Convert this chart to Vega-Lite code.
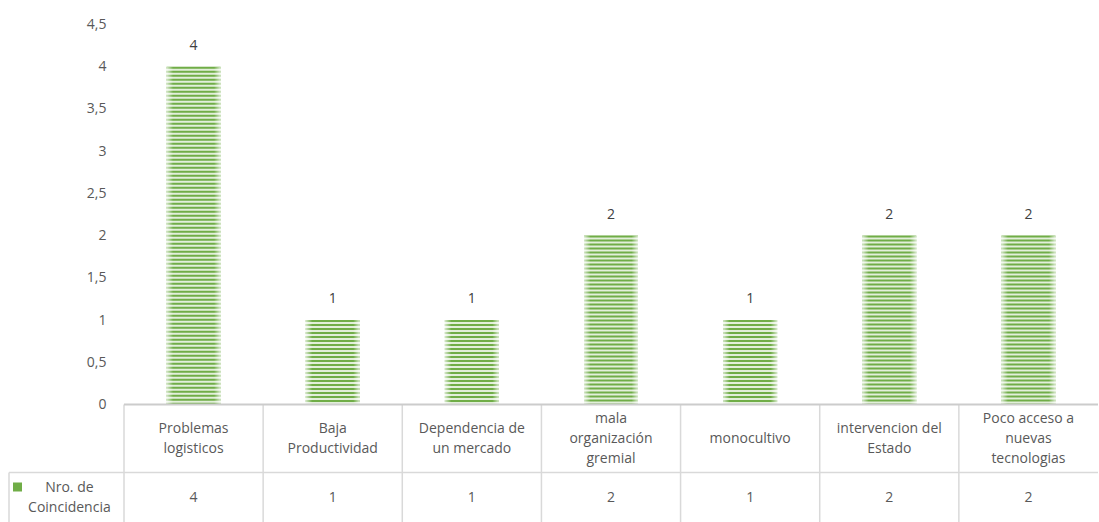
{
  "$schema": "https://vega.github.io/schema/vega-lite/v6.json",
  "padding": {"left": 8, "top": 17.5, "right": 2, "bottom": 0},
  "config": {"view": {"stroke": null}, "font": "Open Sans"},
  "datasets": {
    "tabla": [
      {"factor": "Problemas logisticos", "etiqueta": "Problemas\nlogisticos", "n": 4},
      {"factor": "Baja Productividad", "etiqueta": "Baja\nProductividad", "n": 1},
      {"factor": "Dependencia de un mercado", "etiqueta": "Dependencia de\nun mercado", "n": 1},
      {"factor": "mala organización gremial", "etiqueta": "mala\norganización\ngremial", "n": 2},
      {"factor": "monocultivo", "etiqueta": "monocultivo", "n": 1},
      {"factor": "intervencion del Estado", "etiqueta": "intervencion del\nEstado", "n": 2},
      {"factor": "Poco acceso a nuevas tecnologias", "etiqueta": "Poco acceso a\nnuevas\ntecnologias", "n": 2}
    ],
    "serie": [{"serie": "Nro. de\nCoincidencia"}]
  },
  "columns": 2,
  "align": "each",
  "bounds": "flush",
  "spacing": 0,
  "resolve": {"scale": {"x": "independent", "y": "independent"}},
  "concat": [
    {
      "width": 115,
      "height": 380,
      "data": {"values": []},
      "mark": "text",
      "encoding": {}
    },
    {
      "width": 974,
      "height": 380,
      "data": {"name": "tabla"},
      "encoding": {
        "x": {"field": "factor", "type": "nominal", "sort": null, "axis": null,
              "scale": {"paddingInner": 0.612, "paddingOuter": 0.306}},
        "y": {"field": "n", "type": "quantitative",
              "scale": {"domain": [0, 4.5], "nice": false},
              "axis": {"values": [0, 0.5, 1, 1.5, 2, 2.5, 3, 3.5, 4, 4.5],
                       "labelExpr": "replace(format(datum.value, '~g'), '.', ',')",
                       "domain": false, "ticks": false, "grid": false,
                       "labelPadding": 18, "labelColor": "#595959",
                       "labelFontSize": 14, "labelFont": "Open Sans", "title": null}}
      },
      "layer": [
        {"mark": {"type": "bar", "fill": "#E2EFDA"}},
        {"mark": {"type": "rule", "stroke": "#70AD47", "strokeWidth": 54, "strokeDash": [2, 2]},
         "encoding": {"y2": {"datum": 0}}},
        {"mark": {"type": "bar",
                  "fill": {"gradient": "linear", "x1": 0, "y1": 0, "x2": 1, "y2": 0,
                           "stops": [
                             {"offset": 0, "color": "rgba(255,255,255,0.7)"},
                             {"offset": 0.12, "color": "rgba(255,255,255,0)"},
                             {"offset": 0.88, "color": "rgba(255,255,255,0)"},
                             {"offset": 1, "color": "rgba(255,255,255,0.7)"}
                           ]}}},
        {"mark": {"type": "text", "dy": -21, "fontSize": 14, "color": "#404040"},
         "encoding": {"text": {"field": "n"}}}
      ]
    },
    {
      "width": 115,
      "height": 118,
      "data": {"name": "serie"},
      "layer": [
        {"mark": {"type": "rule", "stroke": "#D9D9D9", "strokeWidth": 1.5},
         "encoding": {"y": {"datum": 1, "type": "quantitative",
                            "scale": {"domain": [0, 1.735], "reverse": true, "nice": false, "zero": false},
                            "axis": null}}},
        {"mark": {"type": "rule", "stroke": "#D9D9D9", "strokeWidth": 1.5},
         "encoding": {"x": {"datum": 0, "type": "quantitative",
                            "scale": {"domain": [0, 1], "nice": false, "zero": false}, "axis": null},
                      "y": {"datum": 1, "type": "quantitative", "axis": null},
                      "y2": {"datum": 1.735}}},
        {"mark": {"type": "point", "shape": "square", "filled": true, "size": 81, "color": "#70AD47", "opacity": 1},
         "encoding": {"x": {"datum": 0.074, "type": "quantitative", "axis": null},
                      "y": {"datum": 1.213, "type": "quantitative", "axis": null}}},
        {"mark": {"type": "text", "fontSize": 14, "color": "#595959", "lineBreak": "\n", "lineHeight": 20, "align": "center", "baseline": "middle", "dy": -10},
         "encoding": {"x": {"datum": 0.525, "type": "quantitative", "axis": null},
                      "y": {"datum": 1.38, "type": "quantitative", "axis": null},
                      "text": {"field": "serie"}}}
      ]
    },
    {
      "width": 974,
      "height": 118,
      "layer": [
        {"data": {"name": "tabla"},
         "mark": {"type": "rule", "stroke": "#D9D9D9", "strokeWidth": 1.5},
         "encoding": {"x": {"field": "factor", "type": "nominal", "sort": null, "bandPosition": 0, "axis": null,
                            "scale": {"paddingInner": 0, "paddingOuter": 0}},
                      "y": {"datum": 0, "type": "quantitative",
                            "scale": {"domain": [0, 1.735], "reverse": true, "nice": false, "zero": false},
                            "axis": null},
                      "y2": {"datum": 1.735}}},
        {"data": {"name": "serie"},
         "mark": {"type": "rule", "stroke": "#D9D9D9", "strokeWidth": 1.5},
         "encoding": {"y": {"datum": 1, "type": "quantitative", "axis": null}}},
        {"data": {"name": "serie"},
         "mark": {"type": "rule", "stroke": "#CCCCCC", "strokeWidth": 2},
         "encoding": {"y": {"datum": 0, "type": "quantitative", "axis": null}}},
        {"data": {"name": "tabla"},
         "transform": [{"filter": "length(split(datum.etiqueta, '\\n')) == 1"}],
         "mark": {"type": "text", "fontSize": 14, "color": "#595959", "lineBreak": "\n", "lineHeight": 20, "align": "center", "baseline": "middle"},
         "encoding": {"x": {"field": "factor", "type": "nominal", "sort": null, "axis": null},
                      "y": {"datum": 0.5, "type": "quantitative", "axis": null},
                      "text": {"field": "etiqueta"}}},
        {"data": {"name": "tabla"},
         "transform": [{"filter": "length(split(datum.etiqueta, '\\n')) == 2"}],
         "mark": {"type": "text", "fontSize": 14, "color": "#595959", "lineBreak": "\n", "lineHeight": 20, "align": "center", "baseline": "middle", "dy": -10},
         "encoding": {"x": {"field": "factor", "type": "nominal", "sort": null, "axis": null},
                      "y": {"datum": 0.5, "type": "quantitative", "axis": null},
                      "text": {"field": "etiqueta"}}},
        {"data": {"name": "tabla"},
         "transform": [{"filter": "length(split(datum.etiqueta, '\\n')) == 3"}],
         "mark": {"type": "text", "fontSize": 14, "color": "#595959", "lineBreak": "\n", "lineHeight": 20, "align": "center", "baseline": "middle", "dy": -20},
         "encoding": {"x": {"field": "factor", "type": "nominal", "sort": null, "axis": null},
                      "y": {"datum": 0.5, "type": "quantitative", "axis": null},
                      "text": {"field": "etiqueta"}}},
        {"data": {"name": "tabla"},
         "mark": {"type": "text", "fontSize": 14, "color": "#595959", "align": "center", "baseline": "middle"},
         "encoding": {"x": {"field": "factor", "type": "nominal", "sort": null, "axis": null},
                      "y": {"datum": 1.375, "type": "quantitative", "axis": null},
                      "text": {"field": "n"}}}
      ]
    }
  ]
}
